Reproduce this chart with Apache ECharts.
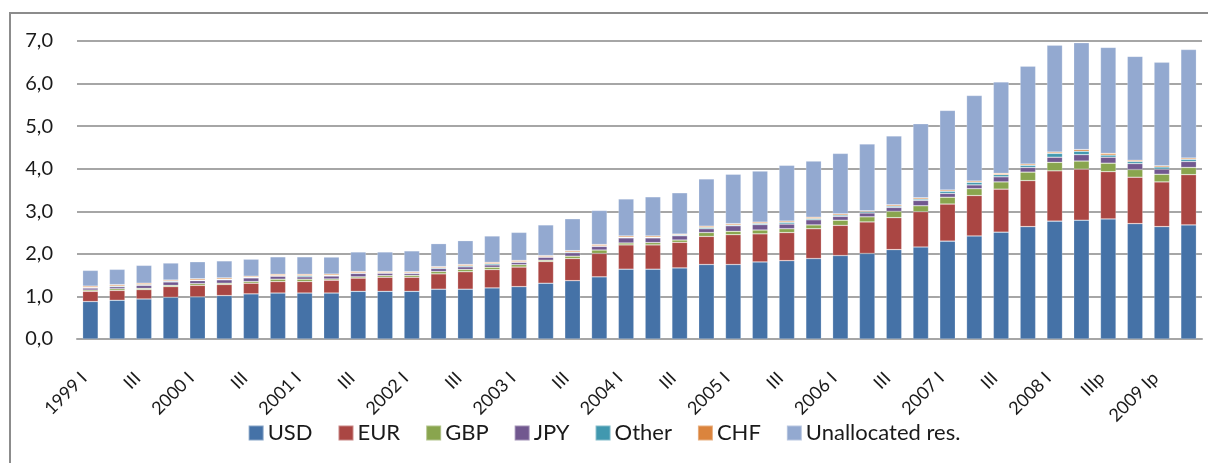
<!DOCTYPE html>
<html>
<head>
<meta charset="utf-8">
<script src="https://cdn.jsdelivr.net/npm/echarts@6/dist/echarts.min.js"></script>
<style>
  html, body { margin: 0; padding: 0; background: #fff; }
  #chart { width: 1208px; height: 463px; }
</style>
</head>
<body>
<div id="chart"></div>
<script>
// quarters 1999 I .. 2009 II
var categories = [
  '1999 I', 'II', 'III', 'IV',
  '2000 I', 'II', 'III', 'IV',
  '2001 I', 'II', 'III', 'IV',
  '2002 I', 'II', 'III', 'IV',
  '2003 I', 'II', 'III', 'IV',
  '2004 I', 'II', 'III', 'IV',
  '2005 I', 'II', 'III', 'IV',
  '2006 I', 'II', 'III', 'IV',
  '2007 I', 'II', 'III', 'IV',
  '2008 I', 'IIp', 'IIIp', 'IVp',
  '2009 Ip', 'IIp'
]

var usd = [0.88, 0.91, 0.94, 0.98, 0.99, 1.02, 1.06, 1.08, 1.08, 1.08, 1.12, 1.12, 1.12, 1.17,
  1.17, 1.20, 1.23, 1.31, 1.37, 1.46, 1.64, 1.64, 1.67, 1.75, 1.75, 1.81, 1.84, 1.89,
  1.96, 2.01, 2.10, 2.16, 2.30, 2.42, 2.51, 2.64, 2.77, 2.79, 2.82, 2.71, 2.64, 2.68]
var eur = [0.24, 0.23, 0.22, 0.25, 0.27, 0.26, 0.25, 0.27, 0.27, 0.30, 0.31, 0.33, 0.33, 0.36,
  0.41, 0.43, 0.46, 0.51, 0.52, 0.55, 0.57, 0.57, 0.60, 0.66, 0.70, 0.66, 0.66, 0.70,
  0.71, 0.74, 0.75, 0.83, 0.87, 0.95, 1.01, 1.08, 1.18, 1.20, 1.11, 1.09, 1.05, 1.18]
var gbp = [0.03, 0.04, 0.03, 0.03, 0.04, 0.03, 0.04, 0.055, 0.055, 0.03, 0.03, 0.04, 0.045, 0.055,
  0.055, 0.055, 0.055, 0.03, 0.055, 0.08, 0.045, 0.055, 0.055, 0.09, 0.08, 0.09, 0.09, 0.09,
  0.12, 0.12, 0.15, 0.14, 0.16, 0.16, 0.17, 0.20, 0.20, 0.19, 0.20, 0.18, 0.18, 0.17]
var jpy = [0.047, 0.047, 0.07, 0.08, 0.07, 0.08, 0.085, 0.07, 0.055, 0.07, 0.08, 0.055, 0.045, 0.07,
  0.06, 0.055, 0.055, 0.07, 0.08, 0.085, 0.12, 0.11, 0.10, 0.09, 0.13, 0.125, 0.11, 0.12,
  0.09, 0.09, 0.09, 0.125, 0.09, 0.09, 0.12, 0.11, 0.12, 0.15, 0.14, 0.14, 0.12, 0.14]
var other = [0.015, 0.02, 0.02, 0.02, 0.015, 0.015, 0.015, 0.015, 0.03, 0.015, 0.015, 0.015, 0.015, 0.02,
  0.025, 0.03, 0.015, 0.015, 0.02, 0.015, 0.015, 0.015, 0.02, 0.03, 0.02, 0.03, 0.04, 0.03,
  0.03, 0.03, 0.03, 0.03, 0.05, 0.06, 0.05, 0.05, 0.09, 0.08, 0.05, 0.05, 0.05, 0.05]
var chf = [0.03, 0.03, 0.03, 0.025, 0.03, 0.03, 0.025, 0.03, 0.03, 0.03, 0.03, 0.025, 0.025, 0.025,
  0.03, 0.03, 0.03, 0.025, 0.03, 0.03, 0.03, 0.03, 0.02, 0.03, 0.03, 0.03, 0.03, 0.03,
  0.03, 0.02, 0.03, 0.03, 0.03, 0.03, 0.03, 0.03, 0.03, 0.04, 0.04, 0.03, 0.03, 0.03]
var unallocated = [0.37, 0.36, 0.42, 0.40, 0.40, 0.40, 0.40, 0.41, 0.41, 0.40, 0.46, 0.46, 0.49, 0.54,
  0.56, 0.62, 0.66, 0.72, 0.75, 0.80, 0.87, 0.92, 0.97, 1.11, 1.16, 1.20, 1.31, 1.32,
  1.42, 1.57, 1.62, 1.74, 1.87, 2.01, 2.15, 2.30, 2.51, 2.51, 2.49, 2.44, 2.43, 2.55]

var seriesNames = ['USD', 'EUR', 'GBP', 'JPY', 'Other', 'CHF', 'Unallocated res.']
var seriesData = [usd, eur, gbp, jpy, other, chf, unallocated]
var colors = ['#4572A7', '#AA4643', '#89A54E', '#71588F', '#4198AF', '#DB843D', '#93A9D0']

var fontFamily = 'Lato, "Open Sans", sans-serif'

var myChart = echarts.init(document.getElementById('chart'))
myChart.setOption({
  animation: false,
  color: colors,
  textStyle: { fontFamily: fontFamily },
  graphic: [{
    type: 'rect',
    silent: true,
    shape: { x: 10, y: 13, width: 1240, height: 500 },
    style: { fill: 'none', stroke: '#8c8c8c', lineWidth: 2 }
  }],
  grid: {
    left: 77,
    right: 6,
    top: 41,
    bottom: 124
  },
  legend: {
    bottom: 14,
    left: 'center',
    itemWidth: 15,
    itemHeight: 15,
    itemGap: 25,
    icon: 'rect',
    textStyle: { fontSize: 22, color: '#1a1a1a', fontFamily: fontFamily, padding: [0, 0, 0, -1] },
    data: seriesNames
  },
  xAxis: {
    type: 'category',
    data: categories,
    axisTick: { show: false },
    axisLine: { show: true, lineStyle: { color: '#a6a6a6', width: 2 } },
    axisLabel: {
      interval: 1,
      rotate: 45,
      margin: 30,
      padding: [0, 9, 0, 0],
      fontSize: 18,
      color: '#1a1a1a'
    }
  },
  yAxis: {
    type: 'value',
    min: 0,
    max: 7,
    interval: 1,
    axisLine: { show: false },
    axisTick: { show: false },
    splitLine: { lineStyle: { color: '#a6a6a6', width: 2 } },
    axisLabel: {
      margin: 24,
      fontSize: 20,
      color: '#1a1a1a',
      formatter: function (v) { return v.toFixed(1).replace('.', ',') }
    }
  },
  series: seriesNames.map(function (name, i) {
    return {
      name: name,
      type: 'bar',
      stack: 'total',
      barWidth: '58%',
      itemStyle: { borderColor: 'rgba(255,255,255,0.35)', borderWidth: 0.6 },
      data: seriesData[i]
    }
  })
})
</script>
</body>
</html>
